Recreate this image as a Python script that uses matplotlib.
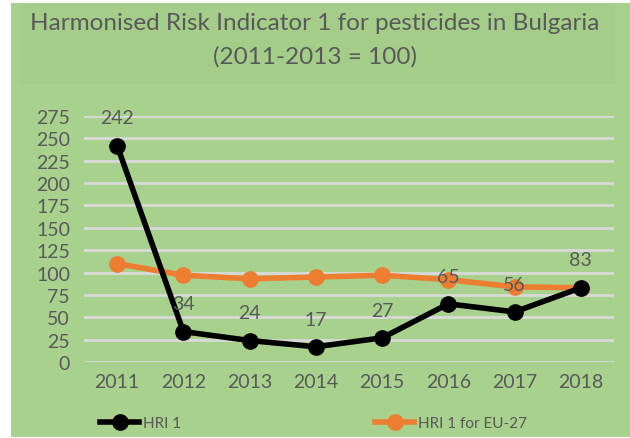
import matplotlib.pyplot as plt
from matplotlib.patches import Rectangle

years = ["2011", "2012", "2013", "2014", "2015", "2016", "2017", "2018"]
hri_bg = [242, 34, 24, 17, 27, 65, 56, 83]
hri_eu = [110, 97, 93, 95, 97, 92, 84, 83]
yticks = [0, 25, 50, 75, 100, 125, 150, 175, 200, 225, 250, 275]

green = "#A9D18E"
grey_txt = "#595959"
plt.rcParams['font.family'] = ['Lato', 'DejaVu Sans']

fig = plt.figure(figsize=(6.3, 4.39), dpi=100, facecolor="white")
# green chart area + slightly darker title box
fig.patches.append(Rectangle((11/630, 1/439), 619/630, 434/439, transform=fig.transFigure,
                             facecolor=green, edgecolor="none", zorder=-10))
fig.patches.append(Rectangle((20/630, 1 - 85/439), 595/630, 80/439, transform=fig.transFigure,
                             facecolor="#A5CD8A", edgecolor="none", zorder=-9))

fig.text(0.5, 1 - 24/439, "Harmonised Risk Indicator 1 for pesticides in Bulgaria",
         ha="center", va="center", fontsize=17.5, color=grey_txt)
fig.text(0.5, 1 - 57/439, "(2011-2013 = 100)", ha="center", va="center", fontsize=17.5, color=grey_txt)

ax = fig.add_axes([84/630, 1 - 363/439, 530/630, 246/439])
ax.set_facecolor("none")
x = list(range(len(years)))
ax.plot(x, hri_eu, color="#ED7D31", lw=4, marker="o", ms=11, label="HRI 1 for EU-27", zorder=3)
ax.plot(x, hri_bg, color="black", lw=4, marker="o", ms=11, label="HRI 1", zorder=4)
for xi, v in zip(x, hri_bg):
    ax.annotate(str(v), (xi, v), xytext=(0, 20), textcoords="offset points",
                ha="center", va="center", fontsize=14, color=grey_txt, zorder=5)

ax.set_xlim(-0.5, 7.5)
ax.set_ylim(0, 275)
ax.set_yticks(yticks)
ax.set_xticks(x)
ax.set_xticklabels(years)
ax.grid(axis="y", color="#D9D9D9", lw=2)
ax.set_axisbelow(True)
for s in ax.spines.values():
    s.set_visible(False)
ax.tick_params(length=0, labelsize=14, labelcolor=grey_txt, pad=8)
ax.tick_params(axis="y", pad=10)

h = ax.get_legend_handles_labels()[0]
leg1 = fig.legend([h[1]], ["HRI 1"], loc="center left", bbox_to_anchor=(86/630, 1 - 424/439),
                  frameon=False, fontsize=11, labelcolor=grey_txt, handlelength=2.6, handletextpad=0.2)
leg2 = fig.legend([h[0]], ["HRI 1 for EU-27"], loc="center left", bbox_to_anchor=(361/630, 1 - 424/439),
                  frameon=False, fontsize=11, labelcolor=grey_txt, handlelength=2.6, handletextpad=0.2)

fig.savefig("out.png", dpi=100, facecolor="white")
